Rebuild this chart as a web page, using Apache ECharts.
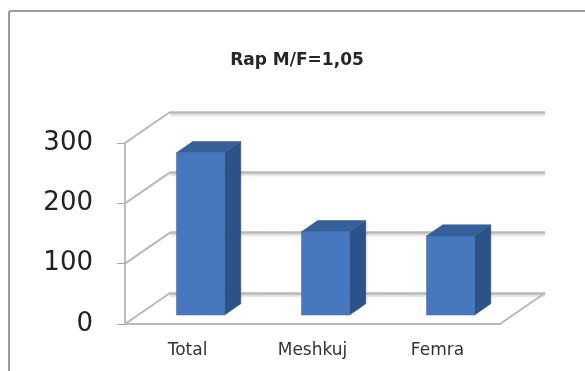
<!DOCTYPE html>
<html><head><meta charset="utf-8">
<script src="https://cdn.jsdelivr.net/npm/echarts@6/dist/echarts.min.js"></script>
<style>html,body{margin:0;padding:0;background:#fff}#c{width:585px;height:371px}</style>
</head><body><div id="c"></div>
<script>
var titleText = 'Rap M/F=1,05';
var categories = ['Total', 'Meshkuj', 'Femra'];
var values = [269, 138, 131];
var yTicks = [0, 100, 200, 300];

// perspective depth (style constants)
var DX = 45, DY = -31, F1 = 0.29, F2 = 0.65, BAR_W = 0.385;

var chart = echarts.init(document.getElementById('c'));
var gridColor = '#b9b9b9';

chart.setOption({
  animation: false,
  backgroundColor: '#ffffff',
  title: {
    text: titleText, left: 292, top: 47, textAlign: 'center',
    textStyle: {fontFamily: 'DejaVu Sans', fontSize: 17, fontWeight: 'bold', color: '#262626'}
  },
  graphic: [{
    type: 'rect', shape: {x: 9, y: 11, width: 600, height: 400, r: 2},
    style: {fill: 'none', stroke: '#9a9a9a', lineWidth: 2}, silent: true
  }],
  grid: [
    {left: 125, right: 85, top: 143, bottom: 47},
    {left: 125 + DX, right: 85 - DX, top: 143 + DY, bottom: 47 - DY}
  ],
  xAxis: [
    {type: 'category', gridIndex: 0, data: categories,
     axisLine: {show: true, lineStyle: {color: gridColor, width: 2}},
     axisTick: {show: false},
     axisLabel: {margin: 18, fontFamily: 'DejaVu Sans', fontSize: 17, color: '#333'}},
    {type: 'category', gridIndex: 1, data: categories, show: false}
  ],
  yAxis: [
    {type: 'value', gridIndex: 0, min: 0, max: 300, interval: 100,
     axisLine: {show: true, lineStyle: {color: '#a8a8a8', width: 1.5}},
     axisTick: {show: true, length: 8, lineStyle: {color: '#a8a8a8'}},
     splitLine: {show: false},
     axisLabel: {margin: 32, fontFamily: 'DejaVu Sans', fontSize: 26, color: '#222'}},
    {type: 'value', gridIndex: 1, min: 0, max: 300, interval: 100,
     axisLine: {show: false}, axisTick: {show: false}, axisLabel: {show: false},
     splitLine: {show: true, lineStyle: {color: gridColor, width: 2.5,
       shadowColor: 'rgba(0,0,0,0.15)', shadowBlur: 2, shadowOffsetY: 2}}}
  ],
  series: [
    {
      type: 'custom', xAxisIndex: 0, yAxisIndex: 0, z: 1,
      data: yTicks.map(function (t) { return [0, t]; }),
      renderItem: function (params, api) {
        var cs = params.coordSys;
        var y = api.coord([0, api.value(1)])[1];
        var x = cs.x;
        var children = [{
          type: 'line', shape: {x1: x, y1: y, x2: x + DX, y2: y + DY},
          style: {stroke: gridColor, lineWidth: 2}
        }];
        if (api.value(1) === 0) {
          var xr = cs.x + cs.width;
          children.push({
            type: 'line', shape: {x1: xr, y1: y, x2: xr + DX, y2: y + DY},
            style: {stroke: gridColor, lineWidth: 2}
          });
        }
        return {type: 'group', children: children};
      }
    },
    {
      type: 'custom', xAxisIndex: 0, yAxisIndex: 0, z: 5,
      data: values.map(function (v, i) { return [i, v]; }),
      renderItem: function (params, api) {
        var top = api.coord([api.value(0), api.value(1)]);
        var base = api.coord([api.value(0), 0]);
        var band = api.size([1, 0])[0];
        var w = band * BAR_W;
        var ox = F1 * DX, oy = F1 * DY;
        var dx = (F2 - F1) * DX, dy = (F2 - F1) * DY;
        var x0 = top[0] + ox - w / 2, x1 = x0 + w;
        var yT = top[1] + oy, yB = base[1] + oy;
        return {type: 'group', children: [
          {type: 'polygon', shape: {points: [[x1, yT], [x1 + dx, yT + dy], [x1 + dx, yB + dy], [x1, yB]]},
           style: {fill: '#2c5389', stroke: '#2a4f80', lineWidth: 0.5}},
          {type: 'polygon', shape: {points: [[x0, yT], [x0 + dx, yT + dy], [x1 + dx, yT + dy], [x1, yT]]},
           style: {fill: '#35609a', stroke: '#2f5890', lineWidth: 0.5}},
          {type: 'rect', shape: {x: x0, y: yT, width: w, height: yB - yT},
           style: {fill: '#4777bd', stroke: '#3e6aaa', lineWidth: 0.5}}
        ]};
      }
    }
  ]
});
</script>
</body></html>
